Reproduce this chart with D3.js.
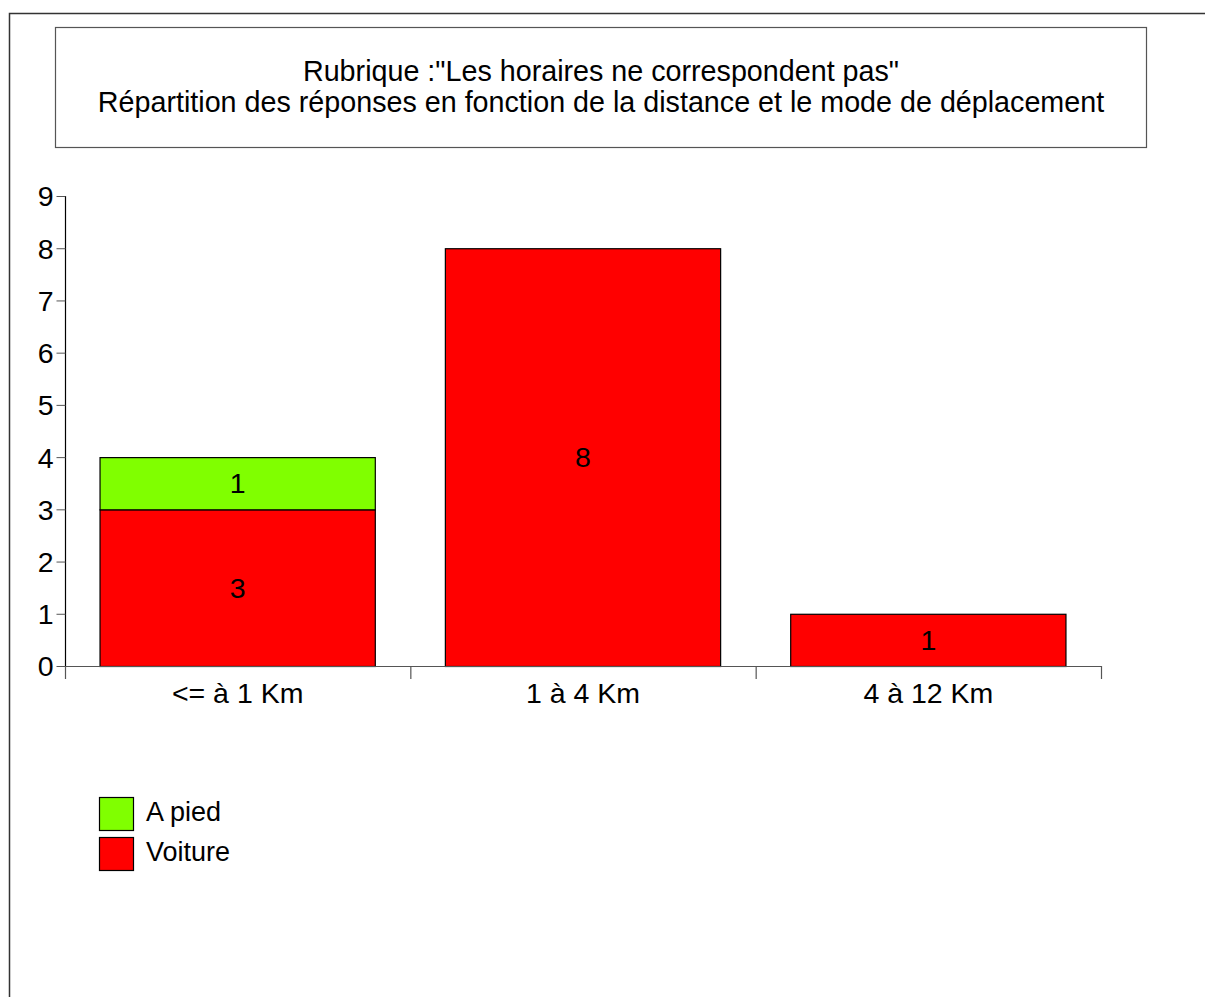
<!DOCTYPE html>
<html>
<head>
<meta charset="utf-8">
<script src="https://cdn.jsdelivr.net/npm/d3@7"></script>
<style>
  body { margin: 0; background: #fff; }
  text { font-family: "Liberation Sans", Arial, sans-serif; fill: #000; }
</style>
</head>
<body>
<div id="chart"></div>
<script>
const width = 1205;
const height = 997;

// data
const titleLines = ["Rubrique :\"Les horaires ne correspondent pas\"",
    "Répartition des réponses en fonction de la distance et le mode de déplacement"];
const categories = ["<= à 1 Km", "1 à 4 Km", "4 à 12 Km"];
const series = ["Voiture", "A pied"];
const voiture = [3, 8, 1];
const aPied = [1, 0, 0];
const yTicks = [0, 1, 2, 3, 4, 5, 6, 7, 8, 9];
const colors = {"A pied": "#80ff00", "Voiture": "#ff0000"};
const legendOrder = ["A pied", "Voiture"];

const plot = {left: 65, right: 1101, top: 196, bottom: 666};

const rows = categories.map((c, i) => ({cat: c, "Voiture": voiture[i], "A pied": aPied[i]}));
const stacked = d3.stack().keys(series)(rows);

const xScale = d3.scaleBand()
    .domain(categories)
    .range([plot.left, plot.right])
    .paddingInner(0.2)
    .paddingOuter(0.1);

const xOuter = d3.scaleBand()
    .domain(categories)
    .range([plot.left, plot.right]);

const yScale = d3.scaleLinear()
    .domain([0, 9])
    .range([plot.bottom, plot.top]);

const svg = d3.select("#chart").append("svg")
    .attr("width", width)
    .attr("height", height);

// outer frame
svg.append("rect")
    .attr("x", 9.5).attr("y", 13.5)
    .attr("width", 1300).attr("height", 1100)
    .attr("fill", "none")
    .attr("stroke", "#333")
    .attr("stroke-width", 1.5);

// title box
svg.append("rect")
    .attr("x", 55.5).attr("y", 27.5)
    .attr("width", 1091).attr("height", 120)
    .attr("fill", "#fff")
    .attr("stroke", "#555")
    .attr("stroke-width", 1.2);

svg.selectAll(".title")
    .data(titleLines)
    .join("text")
    .attr("class", "title")
    .attr("x", 601)
    .attr("y", (d, i) => 81 + i * 31)
    .attr("text-anchor", "middle")
    .attr("font-size", 28.7)
    .text(d => d);

// bars
svg.selectAll(".layer")
    .data(stacked)
    .join("g")
    .attr("class", "layer")
    .attr("fill", d => colors[d.key])
    .selectAll("rect")
    .data(d => d.filter(p => p[1] > p[0]).map(p => ({p, key: d.key})))
    .join("rect")
    .attr("x", d => xScale(d.p.data.cat) + 0.5)
    .attr("y", d => yScale(d.p[1]) + 0.5)
    .attr("width", xScale.bandwidth() - 1)
    .attr("height", d => yScale(d.p[0]) - yScale(d.p[1]))
    .attr("stroke", "#000")
    .attr("stroke-width", 1.2);

// value labels
svg.selectAll(".layer-labels")
    .data(stacked)
    .join("g")
    .attr("class", "layer-labels")
    .selectAll("text")
    .data(d => d.filter(p => p[1] > p[0]))
    .join("text")
    .attr("x", d => xScale(d.data.cat) + xScale.bandwidth() / 2)
    .attr("y", d => (yScale(d[0]) + yScale(d[1])) / 2 + 10)
    .attr("text-anchor", "middle")
    .attr("font-size", 28.5)
    .text(d => d[1] - d[0]);

// y axis
const yAxis = d3.axisLeft(yScale).tickValues(yTicks).tickSize(9).tickPadding(3);
const gy = svg.append("g")
    .attr("transform", `translate(${plot.left + 0.5},0)`)
    .call(yAxis);
gy.select(".domain").attr("stroke", "#000").attr("stroke-width", 1.2)
    .attr("d", `M0,${plot.top}V${plot.bottom}`);
gy.selectAll(".tick line").attr("stroke", "#555");
gy.selectAll(".tick text")
    .attr("font-size", 28.5)
    .attr("font-family", "Liberation Sans, Arial, sans-serif")
    .attr("dy", "0.35em")
    .attr("fill", "#000");

// x axis line and category separators
svg.append("line")
    .attr("x1", plot.left).attr("x2", plot.right)
    .attr("y1", plot.bottom + 0.5).attr("y2", plot.bottom + 0.5)
    .attr("stroke", "#555").attr("stroke-width", 1.2);

const sepX = categories.map(c => xOuter(c)).concat([plot.right]);
svg.selectAll(".sep")
    .data(sepX)
    .join("line")
    .attr("class", "sep")
    .attr("x1", d => d + 0.5).attr("x2", d => d + 0.5)
    .attr("y1", plot.bottom).attr("y2", plot.bottom + 13)
    .attr("stroke", "#555").attr("stroke-width", 1.2);

svg.selectAll(".cat")
    .data(categories)
    .join("text")
    .attr("class", "cat")
    .attr("x", d => xOuter(d) + xOuter.bandwidth() / 2)
    .attr("y", 703)
    .attr("text-anchor", "middle")
    .attr("font-size", 28.5)
    .text(d => d);

// legend
const legend = svg.selectAll(".legend")
    .data(legendOrder)
    .join("g")
    .attr("class", "legend")
    .attr("transform", (d, i) => `translate(99,${797 + i * 40})`);

legend.append("rect")
    .attr("x", 0.5).attr("y", 0.5)
    .attr("width", 34).attr("height", 33)
    .attr("fill", d => colors[d])
    .attr("stroke", "#000")
    .attr("stroke-width", 1.2);

legend.append("text")
    .attr("x", 47)
    .attr("y", 24)
    .attr("font-size", 27)
    .text(d => d);
</script>
</body>
</html>
